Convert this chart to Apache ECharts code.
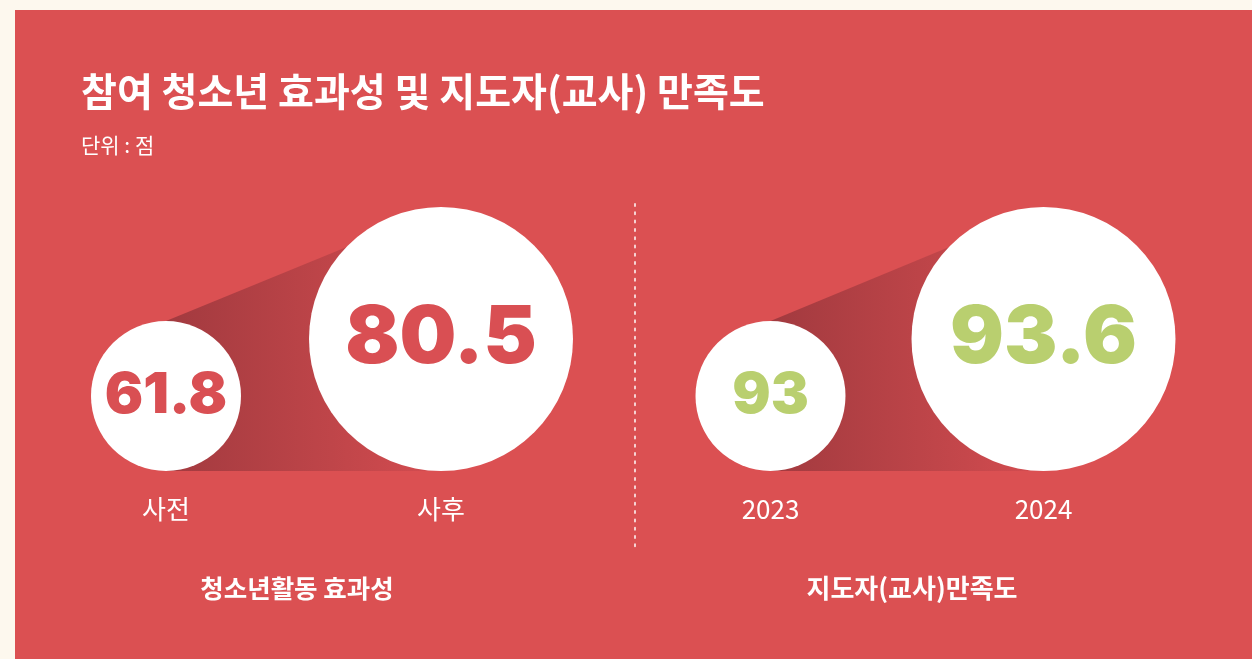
<!DOCTYPE html>
<html>
<head>
    <meta charset="utf-8">
    <title>참여 청소년 효과성 및 지도자(교사) 만족도</title>
    <script src="https://cdn.jsdelivr.net/npm/echarts@6/dist/echarts.min.js"></script>
    <style>
        html, body { margin: 0; padding: 0; background: #fdf8ee; }
        #panel { position: absolute; left: 15px; top: 10px; width: 1237px; height: 649px; background: #db5052; }
        #main { position: absolute; left: 0; top: 0; width: 1252px; height: 659px; }
    </style>
</head>
<body>
    <div id="panel"></div>
    <div id="main"></div>
    <script type="text/javascript">
        // 데이터
        const groupNames = ['청소년활동 효과성', '지도자(교사)만족도'];
        const effectCats = ['사전', '사후'];
        const effectScores = [61.8, 80.5];
        const teacherCats = ['2023', '2024'];
        const teacherScores = [93, 93.6];

        const KR = '"Noto Sans CJK KR", "Noto Sans", sans-serif';
        const NUM = 'Inter, Roboto, sans-serif';
        const SMALL_R = 75, BIG_R = 132;

        var myChart = echarts.init(document.getElementById('main'), null, { renderer: 'canvas' });

        // 작은 원 → 큰 원으로 이어지는 그림자
        function shadowItem(params, api) {
            if (params.dataIndex !== 0) return;
            const s = api.coord([0, 0]);
            const l = api.coord([1, 0]);
            return {
                type: 'polygon',
                shape: {
                    points: [
                        [s[0], s[1] - 2 * SMALL_R],
                        [l[0] - BIG_R * 0.705, l[1] - BIG_R - BIG_R * 0.7],
                        [l[0], l[1]],
                        [s[0], s[1]]
                    ]
                },
                style: {
                    fill: {
                        type: 'linear', global: true,
                        x: s[0], y: 0, x2: l[0], y2: 0,
                        colorStops: [
                            { offset: 0, color: '#a23a3f' },
                            { offset: 0.6, color: '#bf4549' },
                            { offset: 1, color: '#d44c50' }
                        ]
                    }
                }
            };
        }

        function bubbles(cats, scores, idx, color) {
            return [{
                type: 'custom',
                xAxisIndex: idx, yAxisIndex: idx,
                z: 1,
                silent: true,
                renderItem: shadowItem,
                data: cats.map((c, i) => [i, 0])
            }, {
                type: 'scatter',
                xAxisIndex: idx, yAxisIndex: idx,
                z: 3,
                symbol: 'circle',
                symbolSize: (v, p) => p.dataIndex === 0 ? SMALL_R * 2 : BIG_R * 2,
                symbolOffset: (v, p) => [0, p.dataIndex === 0 ? -SMALL_R : -BIG_R],
                itemStyle: { color: '#ffffff', opacity: 1 },
                label: {
                    show: true,
                    position: 'inside',
                    color: color,
                    fontFamily: NUM,
                    fontWeight: 900,
                    formatter: p => String(p.value[2])
                },
                data: scores.map((v, i) => ({
                    value: [i, 0, v],
                    label: { fontSize: i === 0 ? 57 : 80 }
                }))
            }];
        }

        function xAxisFor(cats, idx) {
            return {
                type: 'category', gridIndex: idx, data: cats,
                axisLine: { show: false }, axisTick: { show: false }, splitLine: { show: false },
                axisLabel: { color: '#ffffff', fontSize: 26, fontFamily: KR, margin: 25 }
            };
        }

        var option = {
            animation: false,
            title: [{
                text: '참여 청소년 효과성 및 지도자(교사) 만족도',
                left: 76, top: 67,
                textStyle: { color: '#ffffff', fontSize: 39, fontWeight: 'bold', fontFamily: KR }
            }, {
                text: '단위 : 점',
                left: 76, top: 130,
                textStyle: { color: '#ffffff', fontSize: 21, fontWeight: 'normal', fontFamily: KR }
            }],
            grid: [
                { left: 28.5, width: 550, top: 200, bottom: 188 },
                { left: 634, width: 546, top: 200, bottom: 188 }
            ],
            xAxis: [xAxisFor(effectCats, 0), xAxisFor(teacherCats, 1)],
            yAxis: [0, 1].map(i => ({ type: 'value', gridIndex: i, min: 0, max: 1, show: false })),
            graphic: [{
                type: 'line',
                shape: { x1: 635, y1: 204, x2: 635, y2: 551 },
                style: { stroke: 'rgba(255,255,255,0.75)', lineWidth: 2, lineDash: [2, 6.3], lineCap: 'round' }
            }, {
                type: 'text', x: 297, y: 588,
                style: { text: groupNames[0], fill: '#ffffff', font: 'bold 25.5px ' + KR, textAlign: 'center', textVerticalAlign: 'middle' }
            }, {
                type: 'text', x: 912, y: 588,
                style: { text: groupNames[1], fill: '#ffffff', font: 'bold 26px ' + KR, textAlign: 'center', textVerticalAlign: 'middle' }
            }],
            series: [].concat(
                bubbles(effectCats, effectScores, 0, '#d94f53'),
                bubbles(teacherCats, teacherScores, 1, '#b9cf6f')
            )
        };
        myChart.setOption(option);
    </script>
</body>
</html>
